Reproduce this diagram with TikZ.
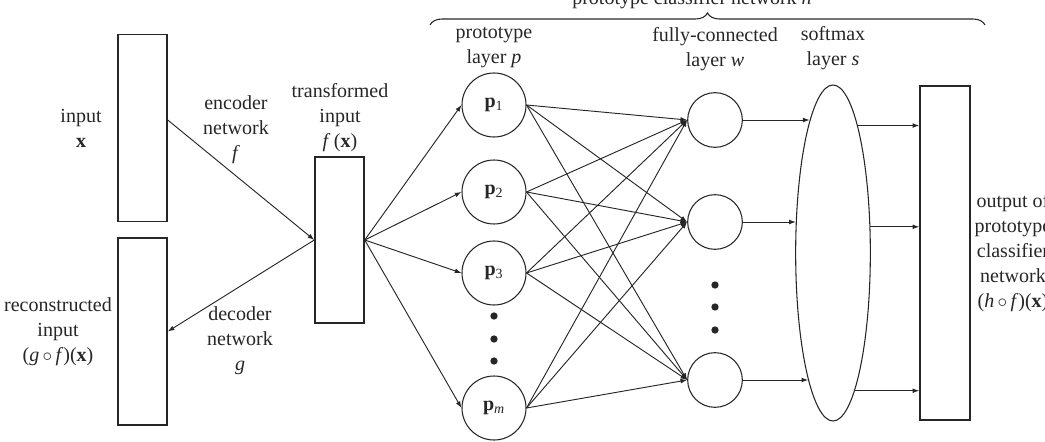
\documentclass[tikz,border=0pt]{standalone}
\usepackage{fontspec}
\setmainfont{Liberation Serif}
\usetikzlibrary{positioning,arrows.meta,shapes.geometric,decorations.pathreplacing}

\begin{document}
\begin{tikzpicture}[
        x=0.75pt, y=-0.75pt,
        color=black!85,
        font=\fontsize{15}{18.75}\selectfont,
        >={Latex[length=5pt,width=3.6pt]},
        box/.style={rectangle, draw, line width=1.1pt, inner sep=0pt, minimum width=36.75pt},
        unit/.style={circle, draw, line width=0.8pt, inner sep=0pt},
        conn/.style={->, line width=0.7pt},
        lbl/.style={align=center, inner sep=0pt},
        dot/.style={circle, fill, inner sep=0pt, minimum size=5.5pt},
    ]
        \useasboundingbox (0,0) rectangle (1045,442);
        \clip (0,0) rectangle (1045,442);

        % autoencoder part
        \node[box, minimum height=140pt] (inbox) at (142.5,128) {};
        \node[box, minimum height=140pt] (recbox) at (142.5,331.5) {};
        \node[box, minimum height=124.5pt] (tbox) at (339.5,240) {};

        \node[lbl] (lin) at (81,128) {input\\\textbf{x}};
        \node[lbl] (lrec) at (58,332) {reconstructed\\input\\(\textit{g}\,$\circ$\,\textit{f})(\textbf{x})};
        \node[lbl] (lenc) at (236,130) {encoder\\network\\\textit{f}};
        \node[lbl] (ldec) at (240,341) {decoder\\network\\\textit{g}};
        \node[lbl] (ltr) at (340,118) {transformed\\input\\\textit{f}\,(\textbf{x})};

        \draw[conn] ([yshift=6pt]inbox.east) -- (tbox.west);
        \draw[conn] (tbox.west) -- (recbox.east);

        % prototype layer
        \node[unit, minimum size=48pt] (p1) at (494,105) {\textbf{p}\textsubscript{1}};
        \node[unit, minimum size=48pt] (p2) at (494,192) {\textbf{p}\textsubscript{2}};
        \node[unit, minimum size=48pt] (p3) at (494,273) {\textbf{p}\textsubscript{3}};
        \node[unit, minimum size=48pt] (pm) at (494,408) {\textbf{p}\textsubscript{\textit{m}}};
        \foreach \y [count=\k] in {316,339,361}
            \node[dot] (pdot\k) at (494,\y) {};

        % fully-connected layer
        \node[unit, minimum size=41pt] (fc1) at (715,120) {};
        \node[unit, minimum size=41pt] (fc2) at (715,222) {};
        \node[unit, minimum size=41pt] (fc3) at (715,380) {};
        \foreach \y [count=\k] in {285,307,330}
            \node[dot] (fdot\k) at (715,\y) {};

        % softmax and output
        \node[ellipse, draw, line width=0.8pt, inner sep=0pt,
              minimum width=56pt, minimum height=252pt] (soft) at (833,253) {};
        \node[box, minimum width=37.5pt, minimum height=250.5pt] (outbox) at (945,253) {};

        \node[lbl] (lp) at (494,48) {prototype\\layer \textit{p}};
        \node[lbl] (lfc) at (715,49) {fully-connected\\layer \textit{w}};
        \node[lbl] (lsm) at (833,48) {softmax\\layer \textit{s}};
        \node[lbl] (lout) at (1013,253) {output of\\prototype\\classifier\\network\\(\textit{h}\,$\circ$\,\textit{f})(\textbf{x})};

        \foreach \i in {p1,p2,p3,pm}
            \draw[conn] (tbox.east) -- (\i.west);
        \foreach \i in {p1,p2,p3,pm}
            \foreach \j in {1,2,3}
                \draw[conn] (\i.east) -- (fc\j.west);

        \draw[conn] (fc1) -- (fc1 -| soft.100);
        \draw[conn] (fc2) -- (fc2 -| soft.140);
        \draw[conn] (fc3) -- (fc3 -| soft.259);
        \draw[conn] (soft.79) -- (soft.79 -| outbox.west);
        \draw[conn] (soft.35) -- (soft.35 -| outbox.west);
        \draw[conn] (soft.279) -- (soft.279 -| outbox.west);

        % brace over the classifier
        \coordinate (bl) at (430,25);
        \coordinate (br) at (985,25);
        \draw[line width=0.8pt, decorate, decoration={brace, amplitude=9pt}] (bl) -- (br);
        \node[anchor=base] (lh) at (692,5) {prototype classifier network \textit{h}};
    \end{tikzpicture}
\end{document}
